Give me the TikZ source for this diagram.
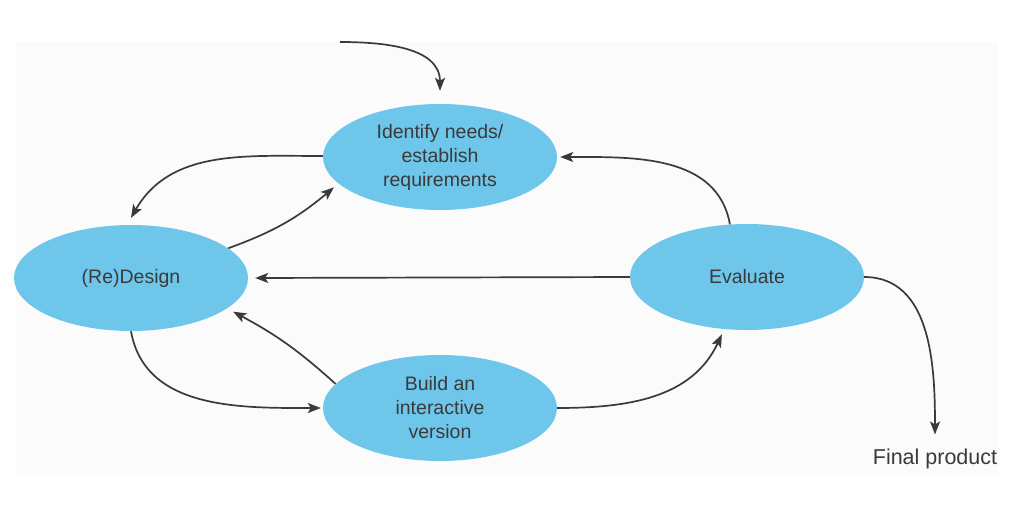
\documentclass[tikz,border=0pt]{standalone}
\usepackage{fontspec}
\setmainfont{Liberation Sans}
\usetikzlibrary{arrows.meta,shapes.geometric}
\definecolor{bub}{RGB}{111,198,235}
\definecolor{ink}{RGB}{58,58,58}
\definecolor{bg}{RGB}{251,251,251}
\tikzset{
  stage/.style={ellipse, fill=bub, inner sep=0pt, minimum width=234pt, minimum height=106pt,
    text=ink, align=center, font=\fontsize{19.5}{24}\selectfont},
  flow/.style={draw=ink, line width=1.7pt, -{Stealth[length=13pt,width=10pt,inset=3pt]}},
}
\begin{document}
\begin{tikzpicture}[x=1pt,y=-1pt]
\useasboundingbox (0,0) rectangle (1010,522);
\fill[bg] (16,42) rectangle (998,475);
\node[stage] (idn) at (440,157) {Identify needs/\\establish\\requirements};
\node[stage] (des) at (131,278) {(Re)Design};
\node[stage] (eva) at (747,277) {Evaluate};
\node[stage] (bld) at (440,408) {Build an\\interactive\\version};
\node[text=ink, font=\fontsize{21.5}{24}\selectfont, anchor=center] (fin) at (935,459) {Final product};
\coordinate (st) at (340,42);
\draw[flow] (st) to[out=0,in=90] ([yshift=13pt]idn.north);
\draw[flow] (idn.west) ++(0,-1) to[out=180,in=60] ([yshift=7pt]des.north);
\draw[flow] (des.17) to[bend right=10] ([xshift=-7pt,yshift=-2pt]idn.196);
\draw[flow] (eva.west) -- ([xshift=7pt]des.east);
\draw[flow] (eva.108) to[out=100,in=0] ([xshift=3pt]idn.east);
\draw[flow] (des.south) to[out=-80,in=180] ([xshift=-2pt]bld.west);
\draw[flow] (bld.167) to[bend right=7] ([xshift=5pt,yshift=-4pt]des.-17);
\draw[flow] (bld.east) to[out=0,in=-115] ([xshift=-4pt,yshift=-5pt]eva.-112);
\draw[flow] (eva.east) to[out=0,in=90] ([yshift=11pt]fin.north);
\end{tikzpicture}
\end{document}
